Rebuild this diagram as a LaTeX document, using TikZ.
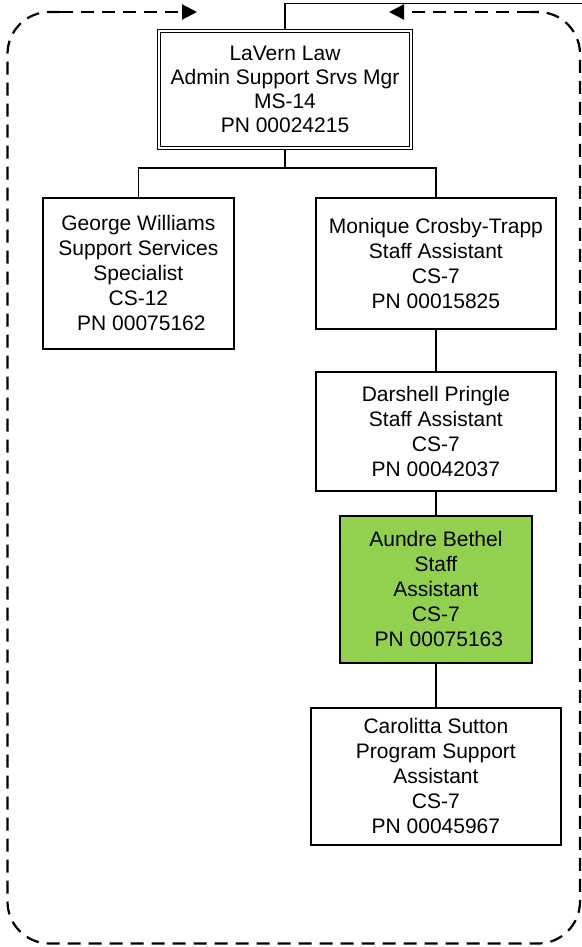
\documentclass[tikz,border=0pt]{standalone}
\usepackage{fontspec}
\setmainfont{Liberation Sans}
\usetikzlibrary{arrows.meta}
\definecolor{orggreen}{RGB}{146,208,80}
\begin{document}
\begin{tikzpicture}[x=1pt,y=-1pt,
  posbox/.style={draw, line width=1.5pt, rectangle, align=center, inner sep=0pt,
    font=\fontsize{21}{25}\selectfont},
  conn/.style={line width=1.5pt},
  loopline/.style={line width=2.2pt, dash pattern=on 13pt off 8pt, rounded corners=42pt},
  looptip/.style={-{Triangle[length=15pt,width=15pt,fill=black]}, line width=2.2pt, dash pattern=on 13pt off 8pt}]
\useasboundingbox (0,0) rectangle (581,947);
\node[posbox, double, line width=1.2pt, double distance=2.5pt, minimum width=252pt, minimum height=117pt,
  font=\fontsize{21}{24}\selectfont] (lav) at (285,89.5)
  {LaVern Law\\Admin Support Srvs Mgr\\MS-14\\PN 00024215};
\node[posbox, minimum width=191pt, minimum height=151pt] (geo) at (138.4,273.4)
  {George Williams\\Support Services\\Specialist\\CS-12\\\hspace*{6pt}PN 00075162};
\node[posbox, minimum width=240pt, minimum height=131pt] (mon) at (435.9,263.4)
  {Monique Crosby-Trapp\\Staff Assistant\\CS-7\\PN 00015825};
\node[posbox, minimum width=240pt, minimum height=119pt] (dar) at (435.9,431.4)
  {Darshell Pringle\\Staff Assistant\\CS-7\\PN 00042037};
\node[posbox, fill=orggreen, minimum width=192pt, minimum height=147pt] (aun) at (435.9,589.4)
  {Aundre Bethel\\Staff\\Assistant\\CS-7\\\hspace*{6pt}PN 00075163};
\node[posbox, minimum width=250pt, minimum height=137pt] (car) at (435.9,776.4)
  {Carolitta Sutton\\Program Support\\Assistant\\CS-7\\PN 00045967};
\coordinate (topright) at (583,3.5);
\coordinate (inL) at (197,12);
\coordinate (inR) at (389,12);
\coordinate (cL) at (60,12);
\coordinate (cR) at (530,12);
\draw[conn] (lav.south) -- ++(0,19.5) -| (geo.north);
\draw[conn] (lav.south) -- ++(0,19.5) -| (mon.north);
\draw[conn] (mon.south) -- (dar.north);
\draw[conn] (dar.south) -- (aun.north);
\draw[conn] (aun.south) -- (car.north);
\draw[conn] (lav.north) |- (topright);
\draw[loopline] (cL) -- (7.5,12) -- (7.5,943.5) -- (580,943.5) -- (580,12) -- (cR);
\draw[looptip] (cL) -- (inL);
\draw[looptip] (cR) -- (inR);
\end{tikzpicture}
\end{document}
